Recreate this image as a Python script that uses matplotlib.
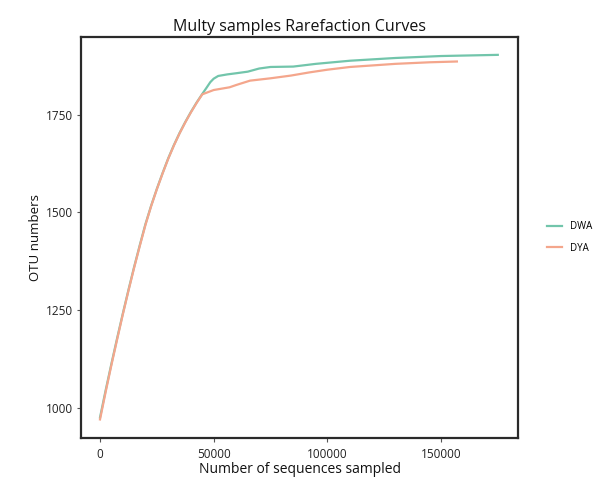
import matplotlib
matplotlib.use("Agg")
import matplotlib.pyplot as plt

plt.rcParams['font.family'] = ['Open Sans', 'DejaVu Sans']

# Rarefaction data
dwa_x = [0, 2500, 5000, 7500, 10000, 12500, 15000, 17500, 20000, 22500, 25000,
         27500, 30000, 32500, 35000, 37500, 40000, 42500, 45000,
         47000, 48500, 50000, 52000, 56000, 60000, 65000, 70000, 75000, 85000,
         95000, 110000, 130000, 150000, 175000]
dwa_y = [975, 1045, 1112, 1177, 1240, 1301, 1360, 1416, 1470, 1517, 1560,
         1600, 1638, 1672, 1703, 1731, 1757, 1781, 1803,
         1820, 1833, 1842, 1849, 1853, 1856, 1860, 1868, 1872, 1873,
         1880, 1888, 1895, 1900, 1903]

dya_x = [0, 2500, 5000, 7500, 10000, 12500, 15000, 17500, 20000, 22500, 25000,
         27500, 30000, 32500, 35000, 37500, 40000, 42500, 45000,
         50000, 57000, 60000, 66000, 75000, 84000, 92000, 100000, 110000,
         130000, 145000, 157000]
dya_y = [970, 1041, 1109, 1174, 1238, 1299, 1358, 1414, 1468, 1516, 1559,
         1599, 1637, 1671, 1702, 1730, 1756, 1780, 1802,
         1813, 1820, 1826, 1837, 1843, 1850, 1858, 1865, 1872,
         1880, 1884, 1886]

labels = ["DWA", "DYA"]
colors = ["#72c5ab", "#f4a68c"]

fig = plt.figure(figsize=(5.95, 4.79), dpi=100)
ax = fig.add_axes([0.136, 0.086, 0.735, 0.837])

ax.plot(dwa_x, dwa_y, color=colors[0], lw=1.6, label=labels[0])
ax.plot(dya_x, dya_y, color=colors[1], lw=1.6, label=labels[1])

ax.set_xlim(-8400, 184000)
ax.set_ylim(923, 1949)
ax.set_xticks([0, 50000, 100000, 150000])
ax.set_yticks([1000, 1250, 1500, 1750])
ax.tick_params(labelsize=8.5, length=3, width=0.8, color="#555555", labelcolor="#222222")
ax.tick_params(axis="x", pad=4)
ax.tick_params(axis="y", pad=2.5)
for s in ax.spines.values():
    s.set_linewidth(1.6)
    s.set_color("#2a2a2a")

ax.set_title("Multy samples Rarefaction Curves", fontsize=11.5, color="#111111", pad=4)
ax.set_xlabel("Number of sequences sampled", fontsize=10, color="#111111", labelpad=1)
ax.set_ylabel("OTU numbers", fontsize=9.5, color="#111111", labelpad=3)

ax.legend(loc="center left", bbox_to_anchor=(1.045, 0.5), frameon=False,
          fontsize=7, handlelength=1.6, labelspacing=1.1)

fig.savefig("out.png", dpi=100)
